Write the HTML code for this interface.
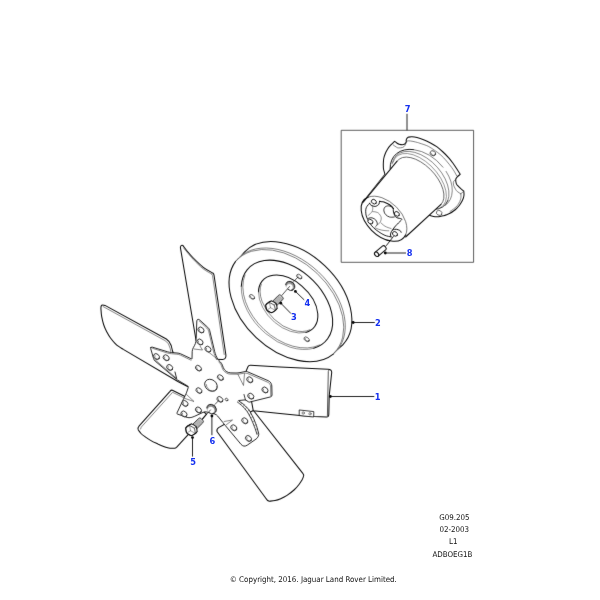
<!DOCTYPE html>
<html>
<head>
<meta charset="utf-8">
<title>Fan and pulley diagram</title>
<style>
html,body{margin:0;padding:0;background:#fff;}
body{width:600px;height:600px;overflow:hidden;}
svg{display:block;will-change:transform;}
.l{fill:none;stroke:#0c0c0c;stroke-width:1.04;stroke-linecap:round;stroke-linejoin:round;}
.f{fill:#fff;stroke:#0c0c0c;stroke-width:1.04;stroke-linecap:round;stroke-linejoin:round;}
.t{fill:none;stroke:#3a3a3a;stroke-width:0.62;stroke-linecap:round;stroke-linejoin:round;}
.tf{fill:#fff;stroke:#3a3a3a;stroke-width:0.62;stroke-linecap:round;stroke-linejoin:round;}
.w{fill:#fff;stroke:none;}
.g{fill:#b4b4b4;stroke:#2e2e2e;stroke-width:0.9;stroke-linejoin:round;}
.k{fill:none;stroke:#404040;stroke-width:0.85;stroke-linejoin:round;}
.d{fill:#000;stroke:none;}
.ld{fill:none;stroke:#0c0c0c;stroke-width:0.9;}
.n{font-family:"DejaVu Sans Condensed","DejaVu Sans","Liberation Sans",sans-serif;font-weight:bold;font-size:9.2px;fill:#1430f0;text-anchor:middle;}
.c{font-family:"DejaVu Sans Condensed","DejaVu Sans","Liberation Sans",sans-serif;font-size:7.9px;fill:#111;text-anchor:middle;}
</style>
</head>
<body>
<svg width="600" height="600" viewBox="0 0 600 600">
<defs><filter id="soft" x="0" y="0" width="600" height="600" filterUnits="userSpaceOnUse" color-interpolation-filters="sRGB"><feConvolveMatrix order="3" kernelMatrix="0.0052 0.0619 0.0052 0.0619 0.7314 0.0619 0.0052 0.0619 0.0052" edgeMode="none" preserveAlpha="false"/></filter></defs>
<rect width="600" height="600" fill="#fff"/>
<g filter="url(#soft)">
<g id="frame"><rect x="341.2" y="130.3" width="132.4" height="132" class="k"/></g>
<g id="hub">
<path d="M385 174.2C384.8 173.4 383.9 171 383.6 169.5C383.3 168 383.3 166.5 383.3 165C383.3 163.5 383.4 161.9 383.5 160.5C383.6 159.1 383.8 158 384.2 156.7C384.6 155.4 385.1 154.1 385.6 152.8C386.2 151.6 386.7 150.5 387.5 149.2C388.3 147.9 389.4 146.5 390.6 145.2C391.8 143.9 393.9 142 394.6 141.3C395 141.6 396 142.5 396.8 143C397.6 143.5 398.1 143.9 399.2 144.2C400.3 144.5 402.3 144.8 403.3 144.6C404.3 144.4 404.9 143.8 405.4 143.3C405.9 142.8 406.2 141.8 406.4 141.5C406.4 141.3 406.1 140.6 406.2 140.2C406.2 139.8 406.4 139.3 406.7 138.8C407 138.3 407.9 137.5 408.2 137.2C408.8 137.1 410.5 136.7 412 136.8C413.5 136.9 415 137.1 417 137.6C419 138.1 421.9 139.1 424.2 140C426.4 140.9 428.4 141.9 430.5 143C432.6 144.1 434.6 145.2 436.7 146.7C438.8 148.2 440.9 150.1 443 152C445.1 153.9 447.4 156.3 449.2 158.3C450.9 160.3 452.1 162.1 453.5 164C454.9 165.9 456.4 168.3 457.5 170C458.6 171.7 459.8 173.6 460.2 174.3C459.8 174.7 458.2 175.9 457.5 176.7C456.8 177.5 456 178.1 455.8 179.2C455.6 180.3 455.9 182.3 456.2 183.3C456.5 184.3 456.7 184.5 457.5 185.4C458.3 186.3 459.8 187.6 460.8 188.6C461.9 189.6 463.3 190.8 463.8 191.2C463.8 191.8 464.1 193.8 464 195C463.9 196.2 463.6 197.4 463.2 198.5C462.8 199.6 462.3 200.6 461.7 201.7C461.1 202.8 460.3 204.1 459.5 205.2C458.7 206.3 457.7 207.3 456.7 208.3C455.7 209.3 454.6 210.2 453.5 211C452.4 211.8 451.1 212.7 450 213.3C448.9 213.9 447.8 214.4 446.7 214.8C445.6 215.2 444.4 215.5 443.3 215.8C442.2 216.1 441.1 216.3 440 216.5C438.9 216.7 437.8 216.7 436.7 216.7C435.6 216.7 434.5 216.6 433.5 216.4C432.5 216.2 431.7 216 430.8 215.8C429.9 215.6 428.7 215.1 428.3 215L405 236L363 202Z" class="f"/>
<path d="M406.4 141.5C406.7 141.4 407.2 140.8 408.3 140.8C409.4 140.8 411.5 141.1 413 141.4C414.5 141.7 416.3 142.2 417.5 142.5C418.7 142.8 418.2 142.7 420 143.3C421.8 143.9 425.9 145.1 428.3 146.3C430.7 147.5 432.4 148.9 434.5 150.3C436.6 151.8 438.8 153.2 440.8 155C442.8 156.8 444.7 158.9 446.5 161C448.3 163.1 450.4 165.7 451.7 167.5C453 169.3 453.7 170.4 454.5 171.8C455.3 173.2 456.3 175.1 456.7 175.8" class="t"/>
<path d="M393.3 145C393.8 145.4 395.7 146.7 396.5 147.2C397.3 147.7 397.3 147.8 398.3 147.9C399.3 148 401.4 147.9 402.5 147.5C403.6 147.1 404.4 146.4 405 145.4C405.6 144.4 406.2 142.2 406.4 141.5" class="t"/>
<path d="M455.8 179.2C455.4 179.6 454 180.7 453.6 181.5C453.2 182.3 453.3 183.1 453.4 184C453.5 184.9 453.8 185.8 454.2 186.7C454.6 187.6 455.1 188.6 455.6 189.4C456.2 190.2 456.6 191 457.5 191.7C458.4 192.4 460.2 193.4 460.8 193.8" class="t"/>
<path d="M460.8 193.8C460.8 194.1 461 195.2 461 196C461 196.8 461 197.4 460.8 198.3C460.6 199.2 460.2 200.5 459.8 201.5C459.4 202.5 458.9 203.3 458.3 204.2C457.7 205.1 456.8 206.2 456 207C455.2 207.8 454.3 208.4 453.3 209.2C452.3 209.9 450.6 211.1 450 211.5" class="t"/>
<path d="M460.8 193.8L463.8 191.2" class="t"/>
<ellipse cx="432.9" cy="153.3" rx="2.9" ry="2.4" transform="rotate(30 432.9 153.3)" class="f" style="stroke-width:0.8;stroke:#3a3a3a"/>
<path d="M435.3 153.8A2.2 1.8 30 0 1 431.1 153.4" class="t"/>
<ellipse cx="439.2" cy="212.9" rx="2.9" ry="2.4" transform="rotate(30 439.2 212.9)" class="f" style="stroke-width:0.7;stroke:#3a3a3a"/>
<path d="M390.1 168.6L390.2 166L390.5 163.5L391.2 161.1L392.1 158.9L393.3 156.9L394.8 155.1L396.5 153.5L398.4 152.2L400.5 151.1L402.9 150.2L405.4 149.7L408 149.4L410.8 149.4L413.7 149.6L416.6 150.2L419.6 151L422.6 152L425.6 153.3L428.5 154.9L431.4 156.7L434.2 158.7L436.8 160.8L439.4 163.2L441.7 165.7L443.9 168.3L445.8 171L447.5 173.8L449 176.7L450.2 179.5L451.2 182.4L451.9 185.2L452.3 188L452.4 190.7L452.2 193.3L451.7 195.8L451 198.1L449.9 200.2L448.6 202.1L447.1 203.9L445.3 205.4L434.2 210L405 236L363 202Z" class="w"/>
<path d="M390.1 168.6A35.8 24.1 41.7 0 1 413.7 149.6" class="l" style="stroke-width:0.95"/>
<path d="M413.7 149.6A35.8 24.1 41.7 0 1 443 167.2" class="t" style="stroke-width:0.75;stroke:#555"/>
<path d="M446.1 171.4A35.8 24.1 41.7 0 1 445.3 205.4" class="t"/>
<path d="M392.1 163.9A34.8 21.3 46 1 1 447.8 200.7" class="t"/>
<path d="M447.8 200.7A34.8 21.3 46 0 1 434 209.4" class="l" style="stroke-width:0.85"/>
<path d="M393.1 162.2A34 18.9 47 1 1 440.3 207.9" class="t" style="stroke:#555"/>
<path d="M363.2 202.2L397.1 161.2L397.9 160.1L398.9 159.1L400 158.3L401.2 157.6L402.6 157.2L404.1 156.8L405.6 156.7L407.3 156.7L409.1 156.9L410.9 157.3L412.8 157.8L414.8 158.5L416.8 159.3L418.8 160.4L420.8 161.5L422.8 162.8L424.8 164.2L426.8 165.8L428.7 167.4L430.5 169.1L432.3 171L434 172.9L435.6 174.9L437.1 176.9L438.5 178.9L439.7 181L440.9 183.1L441.8 185.1L442.6 187.2L443.3 189.2L443.8 191.1L444.2 193L444.3 194.8L444.3 196.5L444.2 198.2L443.9 199.7L443.4 201.1L442.7 202.3L441.9 203.5L441 204.4L405.6 237Z" class="w"/>
<ellipse cx="384" cy="218.7" rx="27.3" ry="17" transform="rotate(44 384 218.7)" class="w"/>
<path d="M397.1 161.2A30.9 16.4 46.4 1 1 441 204.4" class="t" style="stroke:#444;stroke-width:0.8"/>
<path d="M363.2 202.2L397.1 161.2" class="l"/>
<path d="M405.6 237L441 204.4" class="l"/>
<path d="M405.7 234.7A27.3 17 44 1 1 368.4 197.1" class="l"/>
<path d="M368.4 197.1A27.3 17 44 0 1 405.7 234.7" class="t" style="stroke:#555;stroke-width:0.8"/>
<path d="M369.7 203.2C369.2 203.7 367.6 205.3 367 206.3C366.4 207.3 366 208.2 365.8 209.3C365.6 210.5 365.7 211.9 365.8 213.2C365.9 214.5 366 215.5 366.6 217C367.2 218.5 368.2 220.6 369.3 222.4C370.4 224.2 371.9 226.1 373.5 227.7C375.1 229.3 377 230.6 378.9 231.9C380.8 233.2 383 234.6 385 235.4C387 236.2 390.1 236.7 391.1 236.9" class="l" style="stroke-width:0.92"/>
<ellipse cx="373.9" cy="201.7" rx="2.7" ry="2.1" transform="rotate(35 373.9 201.7)" class="f" style="stroke-width:0.9;stroke:#1a1a1a"/>
<ellipse cx="396.9" cy="213.9" rx="2.7" ry="2.1" transform="rotate(35 396.9 213.9)" class="f" style="stroke-width:0.9;stroke:#1a1a1a"/>
<ellipse cx="370.4" cy="221.6" rx="2.7" ry="2.1" transform="rotate(35 370.4 221.6)" class="f" style="stroke-width:0.9;stroke:#1a1a1a"/>
<ellipse cx="395" cy="233.9" rx="2.7" ry="2.1" transform="rotate(35 395 233.9)" class="f" style="stroke-width:0.9;stroke:#1a1a1a"/>
<path d="M369.7 203.2C369.8 203.4 370 204.3 370.4 204.7C370.8 205.1 371.4 205.4 372 205.7C372.6 206 373.3 206.2 373.9 206.3C374.5 206.4 375.2 206.5 375.8 206.3C376.4 206.1 377.2 205.7 377.7 205.3C378.2 204.9 378.7 204.7 379 204C379.3 203.3 379.5 201.8 379.6 201.3" class="l" style="stroke-width:0.97"/>
<path d="M379.6 201.3C380.1 201.4 381.4 201.5 382.3 201.7C383.2 201.9 384.2 202.1 385 202.4C385.8 202.7 386.5 203 387.3 203.4C388.1 203.8 388.9 204.2 389.6 204.7C390.3 205.2 391.1 205.8 391.7 206.4C392.3 207.1 393.1 208.2 393.4 208.6" class="l" style="stroke-width:1.07"/>
<path d="M393.4 208.6C393.4 209 393.2 210.1 393.3 210.9C393.4 211.7 393.6 212.5 393.8 213.2C394 213.9 394.3 214.7 394.6 215.3C394.9 215.9 395.1 216.5 395.7 217C396.3 217.5 397.2 217.8 398 218.1C398.8 218.3 399.7 218.3 400.3 218.5C400.9 218.7 401.6 219.2 401.9 219.3" class="l" style="stroke-width:0.97"/>
<path d="M393.4 208.6C393.3 208.5 393.1 208.2 392.7 207.8C392.3 207.5 391.6 206.8 391 206.5C390.4 206.2 389.5 206 388.8 205.9C388.1 205.8 387.3 205.9 386.7 206.1C386.1 206.3 385.4 206.6 385 207C384.6 207.4 384.2 208.2 384 208.8C383.8 209.5 383.8 210.2 383.9 210.9C384 211.6 384.2 212.3 384.5 212.9C384.8 213.5 385.3 214.2 385.8 214.7C386.3 215.2 386.9 215.7 387.5 216.1C388.1 216.5 388.9 216.8 389.6 217C390.3 217.2 391.1 217.2 391.9 217.2C392.7 217.2 393.8 217 394.2 217" class="l" style="stroke-width:0.82"/>
<path d="M368.1 218.5C368.4 218.4 369.5 217.9 370.1 217.8C370.8 217.7 371.3 217.7 372 217.8C372.7 218 373.5 218.3 374.1 218.7C374.7 219.1 375.3 219.5 375.8 220.1C376.3 220.7 376.6 221.4 376.9 222C377.1 222.6 377.3 223.3 377.3 223.9C377.3 224.5 377.1 224.9 376.9 225.3C376.6 225.7 376 226 375.8 226.2" class="l" style="stroke-width:0.82"/>
<path d="M391.1 236.9C391 236.6 390.6 235.6 390.5 235C390.4 234.4 390.6 233.7 390.8 233.1C391 232.5 391.2 231.9 391.5 231.4C391.8 230.9 392.2 230.3 392.7 230C393.2 229.7 394 229.4 394.6 229.3C395.2 229.2 395.8 229.2 396.5 229.3C397.2 229.4 398 229.7 398.6 229.9C399.2 230.2 399.9 230.4 400.3 230.8C400.7 231.2 401 232.1 401.1 232.3" class="l" style="stroke-width:0.97"/>
<path d="M392.3 230.4C392.6 230 393.2 228.9 393.8 228.1C394.4 227.3 394.9 226.7 395.7 225.8C396.5 225 397.5 223.9 398.4 223C399.3 222.1 400.7 220.8 401.1 220.4" class="l" style="stroke-width:0.97"/>
<path d="M372 205.7C372.1 206 372.6 207 372.7 207.6C372.8 208.2 372.8 208.6 372.7 209.3C372.6 210 372.4 210.8 372 211.6C371.6 212.3 370.8 213.2 370.1 213.8C369.5 214.5 368.4 215.2 368.1 215.5" class="t" style="stroke:#444;stroke-width:0.6"/>
<path d="M372.7 211.6C373.1 211.6 374.2 211.7 375 211.8C375.8 211.9 376.6 212.1 377.3 212.4C378 212.7 378.7 213.3 379.2 213.8C379.7 214.3 380.1 214.9 380.4 215.5C380.7 216.1 381.1 216.8 381.2 217.4C381.3 218 381.3 218.6 381.2 219.3C381.1 220 380.9 220.8 380.6 221.4C380.3 222 380.2 222.6 379.6 223.1C379.1 223.6 377.7 224.4 377.3 224.7" class="t" style="stroke:#444;stroke-width:0.6"/>
<path d="M375 227.7C375.5 227.9 377.1 228.7 378.1 229.1C379.1 229.5 380.1 229.8 381.2 230C382.3 230.2 383.7 230.5 385 230.6C386.3 230.7 388.2 230.8 388.8 230.8" class="t" style="stroke:#444;stroke-width:0.6"/>
<path d="M381.2 223.1C381.5 223.4 382.5 224.3 383.1 224.8C383.7 225.3 384.2 225.7 385 226.2C385.8 226.7 387.1 227.2 388.1 227.6C389.1 228 390.6 228.3 391.1 228.5" class="t" style="stroke:#444;stroke-width:0.6"/>
</g>
<g id="pulley">
<ellipse cx="293.6" cy="298.5" rx="67.6" ry="45.3" transform="rotate(43.3 293.6 298.5)" class="f"/>
<ellipse cx="287.3" cy="304.7" rx="67.6" ry="45.3" transform="rotate(43.3 287.3 304.7)" class="w"/>
<path d="M333.6 353.8A67.6 45.3 43.3 0 1 235.6 261.4" class="l"/>
<path d="M235.7 261.2A67.6 45.3 43.3 1 1 333.8 353.6" class="t" style="stroke-width:0.65"/>
<path d="M236.3 260.8A67.2 44.9 43.3 1 1 334.1 352.9" class="t" style="stroke-width:0.65"/>
<path d="M241.3 286.3A53.1 35.6 43.3 1 1 313.7 348.3" class="l"/>
<path d="M313.7 348.3A53.1 35.6 43.3 0 1 241.3 286.3" class="t" style="stroke:#444;stroke-width:0.6"/>
<path d="M319.5 345A52.7 35.2 43.3 0 1 245 274.9" class="t"/>
<path d="M258.5 291.7A34.8 22.6 43.3 1 1 305.8 332.4" class="l"/>
<path d="M305.8 332.4A34.8 22.6 43.3 0 1 258.5 291.7" class="t" style="stroke:#444;stroke-width:0.6"/>
<path d="M309.9 329.8A34.4 22.2 43.3 0 1 261.3 284.1" class="t"/>
<ellipse cx="252" cy="296.9" rx="3" ry="1.9" transform="rotate(35 252 296.9)" class="f" style="stroke:#333;stroke-width:0.7"/>
<path d="M254.2 298A2.2 1.2 35 1 1 250.4 296.1" class="t"/>
<ellipse cx="299.3" cy="276.6" rx="3" ry="1.9" transform="rotate(35 299.3 276.6)" class="f" style="stroke:#333;stroke-width:0.7"/>
<path d="M301.5 277.7A2.2 1.2 35 1 1 297.7 275.8" class="t"/>
<ellipse cx="306.7" cy="339.3" rx="3" ry="1.9" transform="rotate(35 306.7 339.3)" class="f" style="stroke:#333;stroke-width:0.7"/>
<path d="M308.9 340.4A2.2 1.2 35 1 1 305.1 338.5" class="t"/>
</g>
<g id="fan">
<path d="M180.4 247.6Q180.6 244.6 183 245.6C183.8 246.6 185.8 249.4 187.5 251.5C189.2 253.6 190.7 255.4 193.3 258C195.9 260.6 200.1 264.8 203.3 267.3C206.6 269.8 211.2 272.1 212.8 273Q213.8 273.6 214 275L225.9 355Q226.3 359.2 222.5 359.4L205 359L196 340Z" class="f"/>
<path d="M183.6 248C184.3 248.9 186.4 251.4 188 253.3C189.6 255.2 190.8 256.9 193.3 259.5C195.8 262.1 199.9 266.3 203 268.7C206.1 271.1 210.2 273.1 211.6 274" class="t"/>
<path d="M211.6 274L212.5 275.4L224.2 354.5" class="t"/>
<path d="M105 305.4L166.3 339.0Q169.6 341 171.2 345.5L172.5 351L188 386.7L178.3 381.7L123.3 349.4C122.6 348.9 120.4 347.7 119 346.7C117.6 345.7 116.4 344.8 115 343.3C113.6 341.9 111.9 339.9 110.5 338C109.1 336.1 107.9 333.9 106.7 331.7C105.5 329.4 104.4 327 103.6 324.5C102.8 322 102.2 319.4 101.7 316.7C101.2 314 101 309.7 100.9 308.3Q100.6 303.6 105 305.4Z" class="f"/>
<path d="M103.2 306.6L165 340.6L168.3 343.5L170.2 348.5L170.8 351.5" class="t"/>
<path d="M172.4 390.2L184 396L206.5 414.2L201.9 419.6L176.5 447.3Q175.6 448.2 174.6 448.2C173.8 448.2 171.6 448.4 170 448.2C168.4 448 166.9 447.6 165 446.9C163.1 446.2 160.6 445.2 158.3 444.2C156 443.1 153.2 441.9 151 440.6C148.8 439.4 146.7 437.9 145 436.7C143.3 435.5 142.1 434.6 141 433.5C139.9 432.4 138.8 430.6 138.3 430Q137.2 428 139.2 425.8L170 391.4Q171.2 389.8 172.4 390.2Z" class="f"/>
<path d="M183.5 397.6L172.6 392.3L141.2 427.2L140.6 429" class="t"/>
<path d="M217.0 431.5Q216.4 429 218.6 427.6L232 420L253.5 410.5L303 473.6Q304.2 475 303.5 476.5C303.2 477.1 302.8 478.7 302 480C301.2 481.3 300.3 482.8 299 484.5C297.7 486.2 296 488.2 294 490C292 491.8 289.3 493.9 287 495.4C284.7 496.9 282 498.1 280 499C278 499.9 276.8 500.2 275 500.6C273.2 501 270.2 501.1 269.3 501.2Q267 500.6 265.8 498.2Z" class="f"/>
<path d="M246 371.5L247.8 367Q248.6 365.2 250.6 365.3L280 367L328 369.2Q331.8 369.4 331.7 372.5L329.2 396L328.8 414.5Q328.7 417.2 326.5 417.1L314 416.6L300 415.5L280 413.6L253.3 410.8Z" class="f"/>
<path d="M328.8 370.4L328.3 371.5L327.4 415.8" class="l" style="stroke-width:0.7"/>
<path d="M299.6 410L313.8 411.6L313.7 417L299.6 415.6Z" class="f" style="stroke-width:0.8"/>
<circle cx="303.2" cy="413" r="1.2" class="t"/>
<circle cx="310" cy="413.8" r="1.2" class="t"/>
<path d="M150.9 347.5Q151.2 346.8 152.2 347.1L167.6 351.8Q169.5 352.4 171.5 352.5L177 353Q179 353.1 180.8 353.9L191.5 358.9Q192 359.2 192 358.6L192.2 351.5Q192.3 349.5 193.3 347.7L194.6 345.3Q195.6 343.5 195.9 341.5L196.1 339.5Q196.2 339 196.2 338.5L196.8 321L197.1 320.1Q197.4 319.3 198.2 319.3L198.2 319.4Q199 319.4 199.6 319.9L207.7 327.3Q209.2 328.6 209.7 330.5L214.7 351.6Q215.2 353.5 215.9 355.4L216.8 357.3Q217.5 359.2 218.9 360.6L220.3 361.9Q221.7 363.3 222.4 365.2L223.3 367.7Q224.2 370 226.2 371.4L226.2 371.4Q228.3 372.8 230.8 372.9L236 373Q238 373 240 372.6L245.3 371.5Q246.5 371.3 247.6 371.8L268.2 380.7Q270 381.5 270.9 383L271 383.2Q271.8 384.5 271.8 386L272 395Q272 396.5 270.5 396.9L249.5 402.1Q249 402.2 248.6 401.9L245.9 400.2Q245.5 399.9 245 399.9L238.8 400.5Q238.2 400.6 238.7 400.9L242.3 403.4Q244 404.5 245.4 406L247.6 408.3Q249 409.8 250 411.5L252 415.3Q253 417 253.8 418.8L255.7 423.7Q256.5 425.5 257 427.4L258.6 433.1Q259 434.5 258.4 435.9L258.3 436.2Q257.6 438 256 439.1L247.2 445.2Q245.6 446.3 243.9 446.1L243.9 446.1Q242.3 445.8 241 444.3L225.3 425.5Q224 424 222.8 422.4L217.7 416.1Q216.5 414.5 214.6 414L206.9 412Q205 411.5 203.2 412.3L194.8 416.2Q193 417 191.1 417.5L190.9 417.5Q189 418 187.1 417.4L177.5 414.1Q176.6 413.8 177 412.9L182.2 401.8Q183 400 183.9 398.2L185.1 395.8Q186 394 186.7 392.1L188.3 387.4Q188.6 386.6 187.9 386.2L177.7 380.1Q177.2 379.8 176.7 379.4L155.1 361Q154 360 153.6 358.6L150.8 349Q150.6 348.2 150.9 347.5Z" class="f" style="stroke-width:0.88"/>
<path d="M152.5 348.3L167.4 353Q169.3 353.6 171.3 353.7L176.8 354.2Q178.8 354.3 180.6 355.2L191 360.2" class="t"/>
<path d="M155.6 360.2L176.4 378.2" class="t"/>
<path d="M199.2 320.9L206.7 328Q208.2 329.4 208.7 331.3L213.6 351.9Q214.1 353.8 214.9 355.6L216.5 359.6" class="t"/>
<path d="M218.6 361.8L219.7 362.9Q220.8 364 221.5 365.9L222.5 368.7Q223.2 370.6 224.8 371.8L226.2 372.8Q227.8 374 229.8 374.1L236 374.2Q238 374.3 240 373.9L244 373.2Q246 372.8 247.8 373.6L267.2 382Q269 382.8 269.8 383.9L269.8 383.9Q270.6 385 270.6 387L270.8 396" class="t"/>
<path d="M208.5 352L217.5 359.2" class="t"/>
<path d="M237.4 402C238.3 402.7 241 404.7 242.6 406.3C244.2 407.9 245.8 409.6 247.2 411.6C248.6 413.7 249.8 416.1 251 418.6C252.2 421.1 253.4 424 254.4 426.6C255.4 429.2 256.6 433.1 257 434.4" class="l" style="stroke-width:0.8"/>
<path d="M240.5 404.6L241.7 402.9" class="t" style="stroke-width:0.5"/>
<path d="M242.9 406.7L244.4 404.9" class="t" style="stroke-width:0.5"/>
<path d="M245.1 409.2L246.7 407.4" class="t" style="stroke-width:0.5"/>
<path d="M247.3 411.7L249.1 409.9" class="t" style="stroke-width:0.5"/>
<path d="M249.1 415L251 413.3" class="t" style="stroke-width:0.5"/>
<path d="M250.9 418.3L252.8 416.7" class="t" style="stroke-width:0.5"/>
<path d="M252.5 422.1L254.5 420.7" class="t" style="stroke-width:0.5"/>
<path d="M254.1 425.8L256.2 424.7" class="t" style="stroke-width:0.5"/>
<path d="M255.4 429.5L257.4 428.9" class="t" style="stroke-width:0.5"/>
<path d="M256.6 433.2L258.6 433.1" class="t" style="stroke-width:0.5"/>
<path d="M194 349L202.5 350L200 346" class="t"/>
<path d="M238 374.5L243.5 385.5L244.5 373.8" class="t"/>
<path d="M186.5 394.5L194 401.5L184.5 398.3" class="t"/>
<path d="M224.2 421.5L232.5 420L226 425" class="t"/>
<path d="M175 372L176.6 378.4" class="l" style="stroke-width:0.9"/>
<path d="M244 394.5L245.5 400" class="l" style="stroke-width:0.8"/>
<ellipse cx="201" cy="330" rx="3.3" ry="2.6" transform="rotate(40 201 330)" class="f" style="stroke-width:0.82;stroke:#1a1a1a"/>
<path d="M203.7 331.4A2.5 1.9 40 1 1 199.4 329.1" class="t"/>
<ellipse cx="200" cy="342" rx="3.3" ry="2.6" transform="rotate(40 200 342)" class="f" style="stroke-width:0.82;stroke:#1a1a1a"/>
<path d="M202.7 343.4A2.5 1.9 40 1 1 198.4 341.1" class="t"/>
<ellipse cx="208" cy="349.2" rx="3.3" ry="2.6" transform="rotate(40 208 349.2)" class="f" style="stroke-width:0.82;stroke:#1a1a1a"/>
<path d="M210.7 350.6A2.5 1.9 40 1 1 206.4 348.3" class="t"/>
<ellipse cx="156.5" cy="356.6" rx="3.3" ry="2.6" transform="rotate(40 156.5 356.6)" class="f" style="stroke-width:0.82;stroke:#1a1a1a"/>
<path d="M159.2 358A2.5 1.9 40 1 1 154.9 355.7" class="t"/>
<ellipse cx="166.2" cy="357.8" rx="3.3" ry="2.6" transform="rotate(40 166.2 357.8)" class="f" style="stroke-width:0.82;stroke:#1a1a1a"/>
<path d="M168.9 359.2A2.5 1.9 40 1 1 164.6 356.9" class="t"/>
<ellipse cx="169.7" cy="367.5" rx="3.3" ry="2.6" transform="rotate(40 169.7 367.5)" class="f" style="stroke-width:0.82;stroke:#1a1a1a"/>
<path d="M172.4 368.9A2.5 1.9 40 1 1 168.1 366.6" class="t"/>
<ellipse cx="185" cy="403.5" rx="3.3" ry="2.6" transform="rotate(40 185 403.5)" class="f" style="stroke-width:0.82;stroke:#1a1a1a"/>
<path d="M187.7 404.9A2.5 1.9 40 1 1 183.4 402.6" class="t"/>
<ellipse cx="184" cy="414" rx="3.3" ry="2.6" transform="rotate(40 184 414)" class="f" style="stroke-width:0.82;stroke:#1a1a1a"/>
<path d="M186.7 415.4A2.5 1.9 40 1 1 182.4 413.1" class="t"/>
<ellipse cx="198.5" cy="410" rx="3.3" ry="2.6" transform="rotate(40 198.5 410)" class="f" style="stroke-width:0.82;stroke:#1a1a1a"/>
<path d="M201.2 411.4A2.5 1.9 40 1 1 196.9 409.1" class="t"/>
<ellipse cx="249.8" cy="379.8" rx="3.3" ry="2.6" transform="rotate(40 249.8 379.8)" class="f" style="stroke-width:0.82;stroke:#1a1a1a"/>
<path d="M252.5 381.2A2.5 1.9 40 1 1 248.2 378.9" class="t"/>
<ellipse cx="265" cy="390" rx="3.3" ry="2.6" transform="rotate(40 265 390)" class="f" style="stroke-width:0.82;stroke:#1a1a1a"/>
<path d="M267.7 391.4A2.5 1.9 40 1 1 263.4 389.1" class="t"/>
<ellipse cx="250.8" cy="396.2" rx="3.3" ry="2.6" transform="rotate(40 250.8 396.2)" class="f" style="stroke-width:0.82;stroke:#1a1a1a"/>
<path d="M253.5 397.6A2.5 1.9 40 1 1 249.2 395.3" class="t"/>
<ellipse cx="244.8" cy="420.8" rx="3.3" ry="2.6" transform="rotate(40 244.8 420.8)" class="f" style="stroke-width:0.82;stroke:#1a1a1a"/>
<path d="M247.5 422.2A2.5 1.9 40 1 1 243.2 419.9" class="t"/>
<ellipse cx="233.8" cy="427.8" rx="3.3" ry="2.6" transform="rotate(40 233.8 427.8)" class="f" style="stroke-width:0.82;stroke:#1a1a1a"/>
<path d="M236.5 429.2A2.5 1.9 40 1 1 232.2 426.9" class="t"/>
<ellipse cx="248.5" cy="438.5" rx="3.3" ry="2.6" transform="rotate(40 248.5 438.5)" class="f" style="stroke-width:0.82;stroke:#1a1a1a"/>
<path d="M251.2 439.9A2.5 1.9 40 1 1 246.9 437.6" class="t"/>
<ellipse cx="211" cy="385.3" rx="6.8" ry="5.5" transform="rotate(38 211 385.3)" class="f" style="stroke-width:0.85;stroke:#1a1a1a"/>
<path d="M217 386.5A5.8 4.5 38 1 1 206.4 384.7" class="t"/>
<ellipse cx="198.5" cy="368.2" rx="3.3" ry="2.4" transform="rotate(38 198.5 368.2)" class="f" style="stroke-width:0.8;stroke:#1a1a1a"/>
<path d="M201.1 369.3A2.5 1.7 38 1 1 196.7 367.6" class="t"/>
<ellipse cx="220.4" cy="377.6" rx="3.3" ry="2.4" transform="rotate(38 220.4 377.6)" class="f" style="stroke-width:0.8;stroke:#1a1a1a"/>
<path d="M223 378.7A2.5 1.7 38 1 1 218.6 377" class="t"/>
<ellipse cx="199" cy="390.6" rx="3.3" ry="2.4" transform="rotate(38 199 390.6)" class="f" style="stroke-width:0.8;stroke:#1a1a1a"/>
<path d="M201.6 391.7A2.5 1.7 38 1 1 197.2 390" class="t"/>
<ellipse cx="220" cy="399.4" rx="3.3" ry="2.4" transform="rotate(38 220 399.4)" class="f" style="stroke-width:0.8;stroke:#1a1a1a"/>
<path d="M222.6 400.5A2.5 1.7 38 1 1 218.2 398.8" class="t"/>
<ellipse cx="226.6" cy="399.6" rx="1.5" ry="1.2" transform="rotate(38 226.6 399.6)" class="f" style="stroke-width:0.8;stroke:#333"/>
</g>
<g id="bolts">
<ellipse cx="290.2" cy="285.8" rx="4.8" ry="4.2" transform="rotate(40 290.2 285.8)" class="w"/>
<path d="M293.9 288.9L293.5 289.3L293 289.6L292.6 289.9L292 290.1L291.5 290.2L290.9 290.3L290.3 290.2L289.7 290.1L289.1 290L288.5 289.7L288 289.4L287.5 289L287 288.6L286.6 288.1L286.3 287.6L286 287.1L285.8 286.5L285.7 285.9L285.6 285.3L285.7 284.7L285.8 284.2L285.9 283.7L286.2 283.2L286.5 282.7L286.9 282.3L287.4 282L287.8 281.7L288.4 281.5L288.9 281.4L289.5 281.3L290.1 281.4L290.7 281.5L291.3 281.6L291.9 281.9L292.4 282.2L292.9 282.6L293.4 283L293.8 283.5L294.1 284L294.4 284.5L294.6 285.1L294.7 285.7L294.8 286.3L294.7 286.9L294.6 287.4L294.5 287.9L294.2 288.4L293.9 288.9ZM292.6 289.3L292.3 289.6L292 289.8L291.6 290L291.2 290.2L290.8 290.3L290.3 290.3L289.9 290.3L289.4 290.2L289 290.1L288.5 289.9L288.1 289.7L287.7 289.4L287.4 289L287.1 288.7L286.8 288.3L286.6 287.9L286.5 287.4L286.4 287L286.3 286.6L286.4 286.1L286.4 285.7L286.6 285.3L286.8 284.9L287 284.6L287.3 284.3L287.6 284L288 283.8L288.4 283.7L288.8 283.6L289.3 283.5L289.7 283.5L290.2 283.6L290.6 283.7L291.1 283.9L291.5 284.2L291.9 284.5L292.2 284.8L292.5 285.1L292.8 285.5L293 286L293.1 286.4L293.2 286.8L293.3 287.3L293.3 287.7L293.2 288.1L293 288.5L292.8 288.9L292.6 289.3Z" fill-rule="evenodd" style="fill:#8a8a8a;stroke:none"/>
<path d="M285.7 284.7A4.8 4.2 40 1 1 291.7 290.2" class="l" style="stroke-width:0.9"/>
<path d="M286.5 285.6A3.6 3.2 40 1 1 291.7 290" class="t" style="stroke:#6a6a6a;stroke-width:0.42"/>
<path d="M292.7 290.2A4.2 3.7 40 0 1 287.9 289.3" class="l" style="stroke-width:0.8"/>
<path d="M281.6 295.7L289.8 286.2" class="ld" style="stroke-width:0.7"/>
<path d="M293.6 281.6L298 277" class="ld" style="stroke-width:0.7"/>
<path d="M270.2 303.7L278.3 295.5Q279.6 294.2 280.6 295.2L282.8 297.3Q283.9 298.4 282.6 299.7L274.5 307.9Z" class="g" style="fill:#d6d6d6;stroke:#1a1a1a;stroke-width:0.85"/>
<path d="M272.4 302.2L276.7 305" class="t" style="stroke:#6a6a6a;stroke-width:0.42"/>
<path d="M273.2 301.4L277.4 304.2" class="t" style="stroke:#6a6a6a;stroke-width:0.42"/>
<path d="M273.9 300.7L278.2 303.5" class="t" style="stroke:#6a6a6a;stroke-width:0.42"/>
<path d="M274.6 299.9L278.9 302.7" class="t" style="stroke:#6a6a6a;stroke-width:0.42"/>
<path d="M275.4 299.2L279.6 302" class="t" style="stroke:#6a6a6a;stroke-width:0.42"/>
<path d="M276.1 298.4L280.4 301.2" class="t" style="stroke:#6a6a6a;stroke-width:0.42"/>
<path d="M276.8 297.7L281.1 300.5" class="t" style="stroke:#6a6a6a;stroke-width:0.42"/>
<path d="M277.6 296.9L281.9 299.7" class="t" style="stroke:#6a6a6a;stroke-width:0.42"/>
<path d="M278.3 296.2L282.6 299" class="t" style="stroke:#6a6a6a;stroke-width:0.42"/>
<path d="M265.8 306.6Q265.5 305 266.4 304.1L266.4 304.1Q267.3 303.2 268.7 302.3L269.9 301.5Q271.2 300.6 272.7 301.4L274.8 302.5Q276.2 303.3 276.6 304.9L277 307Q277.3 308.5 276.4 309.5L276.4 309.5Q275.5 310.4 274.2 311.3L272.9 312.1Q271.6 312.9 270.2 312.2L268 311Q266.6 310.3 266.3 308.7Z" class="f"/>
<path d="M275 310.7Q275.5 310.4 275.4 309.8L274.5 305.7Q274.4 305.1 273.9 304.9L269.9 302.7Q269.4 302.5 268.9 302.8L266 304.7Q265.5 305 265.6 305.6L266.5 309.7Q266.6 310.3 267.1 310.5L271.1 312.7Q271.6 312.9 272.1 312.6Z" class="l" style="stroke-width:0.7"/>
<path d="M275.5 310.4L277.3 308.5" class="l" style="stroke-width:0.7"/>
<path d="M274.4 305.1L276.2 303.3" class="l" style="stroke-width:0.7"/>
<path d="M269.4 302.5L271.2 300.6" class="l" style="stroke-width:0.7"/>
<path d="M265.5 305L267.3 303.2" class="l" style="stroke-width:0.7"/>
<path d="M270.5 307.7L274.7 310" class="t" style="stroke:#444;stroke-width:0.5"/>
<path d="M270.5 307.7L269.6 303.2" class="t" style="stroke:#444;stroke-width:0.5"/>
<path d="M270.5 307.7L267.2 309.9" class="t" style="stroke:#444;stroke-width:0.5"/>
<ellipse cx="211.5" cy="409" rx="5" ry="4.4" transform="rotate(40 211.5 409)" class="w"/>
<path d="M215.3 412.2L214.9 412.6L214.5 413L214 413.3L213.4 413.5L212.8 413.6L212.2 413.7L211.6 413.6L211 413.5L210.4 413.3L209.8 413.1L209.2 412.8L208.7 412.4L208.2 411.9L207.8 411.4L207.4 410.9L207.1 410.3L206.9 409.7L206.8 409.1L206.7 408.5L206.8 407.9L206.9 407.3L207.1 406.8L207.3 406.3L207.7 405.8L208.1 405.4L208.5 405L209 404.7L209.6 404.5L210.2 404.4L210.8 404.3L211.4 404.4L212 404.5L212.6 404.7L213.2 404.9L213.8 405.2L214.3 405.6L214.8 406.1L215.2 406.6L215.6 407.1L215.9 407.7L216.1 408.3L216.2 408.9L216.3 409.5L216.2 410.1L216.1 410.7L215.9 411.2L215.7 411.7L215.3 412.2ZM214.1 412.6L213.7 412.9L213.4 413.2L213 413.4L212.6 413.6L212.1 413.7L211.7 413.7L211.2 413.7L210.7 413.6L210.2 413.5L209.8 413.3L209.3 413L208.9 412.7L208.6 412.4L208.2 412L208 411.6L207.7 411.1L207.6 410.7L207.5 410.2L207.4 409.7L207.5 409.3L207.5 408.8L207.7 408.4L207.9 408L208.2 407.6L208.5 407.3L208.8 407.1L209.2 406.8L209.6 406.7L210.1 406.6L210.6 406.5L211 406.6L211.5 406.6L212 406.8L212.4 407L212.9 407.2L213.3 407.5L213.7 407.9L214 408.2L214.2 408.7L214.5 409.1L214.6 409.6L214.7 410L214.8 410.5L214.8 411L214.7 411.4L214.5 411.8L214.3 412.2L214.1 412.6Z" fill-rule="evenodd" style="fill:#8a8a8a;stroke:none"/>
<path d="M206.8 407.9A5 4.4 40 1 1 213 413.6" class="l" style="stroke-width:0.9"/>
<path d="M207.6 408.7A3.9 3.4 40 1 1 213.1 413.3" class="t" style="stroke:#6a6a6a;stroke-width:0.42"/>
<path d="M214.1 413.6A4.4 3.9 40 0 1 209 412.6" class="l" style="stroke-width:0.8"/>
<path d="M202 419.5L210.8 409.6" class="ld" style="stroke-width:0.7"/>
<path d="M214.8 404.6L219 400.2" class="ld" style="stroke-width:0.7"/>
<path d="M190.3 426.7L198.5 418.6Q199.8 417.3 200.9 418.4L203 420.6Q204 421.6 202.7 422.9L194.5 431Z" class="g" style="fill:#d6d6d6;stroke:#1a1a1a;stroke-width:0.85"/>
<path d="M192.5 425.2L196.7 428.1" class="t" style="stroke:#6a6a6a;stroke-width:0.42"/>
<path d="M193.3 424.5L197.5 427.3" class="t" style="stroke:#6a6a6a;stroke-width:0.42"/>
<path d="M194 423.7L198.2 426.6" class="t" style="stroke:#6a6a6a;stroke-width:0.42"/>
<path d="M194.8 423L199 425.9" class="t" style="stroke:#6a6a6a;stroke-width:0.42"/>
<path d="M195.5 422.3L199.7 425.1" class="t" style="stroke:#6a6a6a;stroke-width:0.42"/>
<path d="M196.3 421.5L200.5 424.4" class="t" style="stroke:#6a6a6a;stroke-width:0.42"/>
<path d="M197 420.8L201.2 423.7" class="t" style="stroke:#6a6a6a;stroke-width:0.42"/>
<path d="M197.8 420.1L202 422.9" class="t" style="stroke:#6a6a6a;stroke-width:0.42"/>
<path d="M198.5 419.3L202.7 422.2" class="t" style="stroke:#6a6a6a;stroke-width:0.42"/>
<path d="M185.8 429.5Q185.5 427.9 186.5 427L186.5 427Q187.4 426.1 188.8 425.3L190 424.5Q191.4 423.6 192.8 424.4L194.9 425.6Q196.3 426.4 196.6 428L197 430.1Q197.3 431.7 196.4 432.6L196.4 432.6Q195.5 433.5 194.1 434.3L192.8 435.1Q191.5 436 190.1 435.2L187.9 434Q186.5 433.2 186.2 431.6Z" class="f"/>
<path d="M194.9 433.8Q195.5 433.5 195.3 432.9L194.6 428.8Q194.5 428.2 193.9 427.9L190 425.7Q189.5 425.4 189 425.8L186.1 427.6Q185.5 427.9 185.7 428.5L186.4 432.6Q186.5 433.2 187.1 433.5L191 435.7Q191.5 436 192 435.6Z" class="l" style="stroke-width:0.7"/>
<path d="M195.5 433.5L197.3 431.7" class="l" style="stroke-width:0.7"/>
<path d="M194.5 428.2L196.3 426.4" class="l" style="stroke-width:0.7"/>
<path d="M189.5 425.4L191.4 423.6" class="l" style="stroke-width:0.7"/>
<path d="M185.5 427.9L187.4 426.1" class="l" style="stroke-width:0.7"/>
<path d="M190.5 430.7L194.7 433.1" class="t" style="stroke:#444;stroke-width:0.5"/>
<path d="M190.5 430.7L189.7 426.2" class="t" style="stroke:#444;stroke-width:0.5"/>
<path d="M190.5 430.7L187.1 432.8" class="t" style="stroke:#444;stroke-width:0.5"/>
<path d="M386.2 245.8L393.6 236.2" class="ld" style="stroke-width:0.9"/>
<path d="M375 252.3L382.7 245.9A1.7 2.5 -40 0 1 385.9 249.7L378.2 256.1Z" class="f"/>
<ellipse cx="376.6" cy="254.2" rx="1.8" ry="2.5" transform="rotate(-40 376.6 254.2)" class="f"/>
</g>
<g id="leaders">
<path d="M407 113.8L407 130.3" class="ld"/>
<circle cx="385.3" cy="253" r="1.4" class="d"/>
<path d="M385.3 253L406 253" class="ld"/>
<circle cx="353.2" cy="322.5" r="1.4" class="d"/>
<path d="M353.2 322.5L374.8 322.5" class="ld"/>
<circle cx="330.4" cy="396.5" r="1.4" class="d"/>
<path d="M330.4 396.5L374.3 396.5" class="ld"/>
<circle cx="295.4" cy="291.4" r="1.4" class="d"/>
<path d="M295.4 291.4L304.2 299.9" class="ld"/>
<circle cx="280.8" cy="303.2" r="1.4" class="d"/>
<path d="M280.8 303.2L291 313.6" class="ld"/>
<circle cx="192.5" cy="437.6" r="1.4" class="d"/>
<path d="M192.5 437.6L192.5 456.6" class="ld"/>
<circle cx="211.9" cy="416" r="1.4" class="d"/>
<path d="M211.9 416L211.9 435.2" class="ld"/>
</g>
</g>
<g id="labels">
<text class="n" x="407.7" y="112.4">7</text>
<text class="n" x="409.6" y="256.4">8</text>
<text class="n" x="378" y="325.7">2</text>
<text class="n" x="377.6" y="399.7">1</text>
<text class="n" x="293.8" y="319.7">3</text>
<text class="n" x="307.4" y="305.8">4</text>
<text class="n" x="193.2" y="465.3">5</text>
<text class="n" x="212.3" y="443.7">6</text>
<text class="c" x="454.3" y="519.5">G09.205</text>
<text class="c" x="454.3" y="531.8">02-2003</text>
<text class="c" x="453.3" y="544.2">L1</text>
<text class="c" x="452.4" y="556.5">ADBOEG1B</text>
<text class="c" x="313.3" y="581.9" style="font-size:7.9px">© Copyright, 2016. Jaguar Land Rover Limited.</text>
</g>
</svg>
</body>
</html>
